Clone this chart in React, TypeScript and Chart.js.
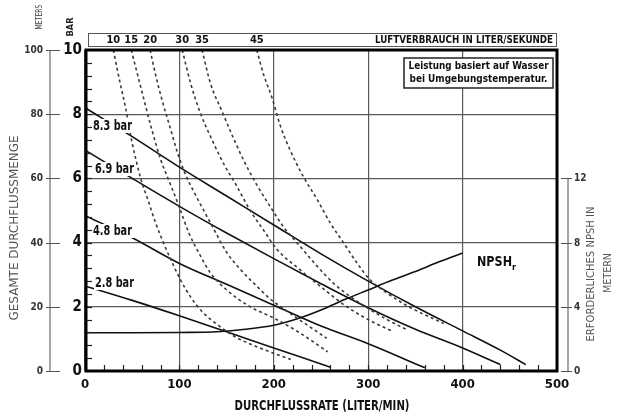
import React, { useEffect, useRef } from "react";
import { Chart, registerables } from "chart.js";

Chart.register(...registerables);

const FONT = "'Liberation Sans Narrow', 'DejaVu Sans Condensed', 'Liberation Sans', sans-serif";

// Axis ticks
const flowTicks = [0, 100, 200, 300, 400, 500];
const barTicks = [0, 2, 4, 6, 8, 10];
const meterTicks = [0, 20, 40, 60, 80, 100];
const npshTicks = [0, 4, 8, 12];

// Pressure lines (flow L/min -> head in bar)
const p83X = [0, 50, 100, 150, 200, 250, 300, 350, 400, 440, 467];
const p83Y = [8.2, 7.3, 6.35, 5.45, 4.55, 3.65, 2.8, 2.0, 1.25, 0.65, 0.2];
const p69X = [0, 50, 100, 150, 200, 250, 300, 350, 400, 440];
const p69Y = [6.88, 6.0, 5.13, 4.3, 3.5, 2.72, 1.97, 1.3, 0.72, 0.2];
const p48X = [0, 50, 100, 150, 200, 250, 300, 360];
const p48Y = [4.84, 4.15, 3.35, 2.7, 2.05, 1.4, 0.85, 0.1];
const p28X = [0, 50, 100, 150, 200, 230, 260];
const p28Y = [2.65, 2.2, 1.72, 1.22, 0.72, 0.42, 0.12];

// NPSHr curve (flow -> metres, right axis)
const npshX = [0, 50, 100, 140, 170, 200, 225, 250, 275, 300, 325, 350, 375, 400];
const npshY = [2.38, 2.38, 2.4, 2.45, 2.6, 2.85, 3.25, 3.8, 4.45, 5.05, 5.65, 6.2, 6.8, 7.35];

// Air consumption curves (flow -> head in bar)
const air10X = [30, 37, 43, 50, 59, 67, 75, 83, 92, 101, 112, 124, 140, 160, 180, 200, 218];
const air10Y = [10, 9, 8.2, 7.1, 6.0, 5.3, 4.6, 4.0, 3.4, 2.85, 2.3, 1.85, 1.45, 1.05, 0.78, 0.55, 0.36];
const air15X = [49, 59, 71, 80, 90, 100, 110, 122, 133, 150, 175, 200, 228, 257];
const air15Y = [10, 8.85, 7.5, 6.6, 5.85, 5.1, 4.3, 3.6, 3.05, 2.53, 2.0, 1.65, 1.18, 0.6];
const air20X = [69, 75, 82, 90, 98, 106, 115, 124, 135, 150, 165, 180, 196, 217, 238, 256];
const air20Y = [10, 9.2, 8.4, 7.6, 6.8, 6.15, 5.6, 5.1, 4.5, 3.7, 3.15, 2.7, 2.25, 1.8, 1.38, 1.02];
const air30X = [103, 112, 122, 133, 147, 160, 175, 190, 203, 228, 253, 275, 300, 325];
const air30Y = [10, 8.95, 8.05, 7.3, 6.45, 5.8, 5.0, 4.35, 3.8, 3.15, 2.55, 2.05, 1.6, 1.25];
const air35X = [124, 133, 145, 157, 170, 182, 196, 210, 228, 246, 263, 281, 300, 320, 340];
const air35Y = [10, 8.95, 8.1, 7.27, 6.45, 5.8, 5.13, 4.5, 3.88, 3.26, 2.74, 2.32, 1.95, 1.6, 1.3];
const air45X = [182, 189, 198, 207, 217, 231, 246, 260, 274, 288, 302, 320, 340, 360, 380];
const air45Y = [10, 9.25, 8.52, 7.63, 6.9, 6.07, 5.34, 4.6, 3.99, 3.37, 2.84, 2.43, 2.05, 1.75, 1.48];

const airLabels = ["10", "15", "20", "30", "35", "45"];
const airCurvesX = [air10X, air15X, air20X, air30X, air35X, air45X];
const airCurvesY = [air10Y, air15Y, air20Y, air30Y, air35Y, air45Y];

const pressureLabels = ["8.3 bar", "6.9 bar", "4.8 bar", "2.8 bar"];
const pressureX = [p83X, p69X, p48X, p28X];
const pressureY = [p83Y, p69Y, p48Y, p28Y];

const pts = (xs: number[], ys: number[]) => xs.map((x, i) => ({ x, y: ys[i] }));

function txt(
  ctx: CanvasRenderingContext2D,
  s: string,
  x: number,
  y: number,
  font: string,
  color: string,
  align: CanvasTextAlign = "center",
  w?: number,
  rot = 0
) {
  ctx.save();
  ctx.font = font;
  ctx.fillStyle = color;
  ctx.textBaseline = "middle";
  ctx.textAlign = align;
  const m = ctx.measureText(s).width;
  const sx = w ? w / m : 1;
  ctx.translate(x, y);
  if (rot) ctx.rotate(rot);
  ctx.scale(sx, 1);
  ctx.fillText(s, 0, 0);
  ctx.restore();
}

const decor = {
  id: "decor",
  afterDatasetsDraw(chart: any) {
    const ctx: CanvasRenderingContext2D = chart.ctx;
    const a = chart.chartArea;
    const sx = chart.scales.x;
    const sy = chart.scales.y;
    const sm = chart.scales.yM;
    const sn = chart.scales.yN;

    // minor ticks bottom
    ctx.save();
    ctx.strokeStyle = "#222";
    ctx.lineWidth = 1.2;
    for (let v = 20; v < 500; v += 20) {
      const px = Math.round(sx.getPixelForValue(v)) + 0.5;
      ctx.beginPath();
      ctx.moveTo(px, a.bottom);
      ctx.lineTo(px, a.bottom - 6);
      ctx.stroke();
    }
    for (let k = 1; k < 25; k++) {
      const py = Math.round(sy.getPixelForValue(k * 0.4)) + 0.5;
      ctx.beginPath();
      ctx.moveTo(a.left, py);
      ctx.lineTo(a.left + 7, py);
      ctx.stroke();
    }
    ctx.restore();

    // pressure labels
    pressureLabels.forEach((lab, i) => {
      const lx = [93, 95, 93, 95][i];
      const ly = [126, 169, 231, 283][i];
      ctx.save();
      ctx.fillStyle = "#fff";
      ctx.fillRect(lx - 1, ly - 7, 42, 14);
      ctx.restore();
      txt(ctx, lab, lx, ly, `bold 14px ${FONT}`, "#111", "left", 39);
    });

    // NPSHr label
    txt(ctx, "NPSH", 477, 262, `bold 14px ${FONT}`, "#111", "left", 35);
    txt(ctx, "r", 512, 268, `bold 9px ${FONT}`, "#111", "left");

    // note box
    ctx.save();
    ctx.fillStyle = "#fff";
    ctx.fillRect(404, 58, 149, 30);
    ctx.strokeStyle = "#222";
    ctx.lineWidth = 1.5;
    ctx.strokeRect(404, 58, 149, 30);
    ctx.restore();
    txt(ctx, "Leistung basiert auf Wasser", 478.5, 66.5, `bold 11px ${FONT}`, "#111", "center", 140);
    txt(ctx, "bei Umgebungstemperatur.", 478.5, 79.5, `bold 11px ${FONT}`, "#111", "center", 138);

    // thick frame
    ctx.save();
    ctx.strokeStyle = "#000";
    ctx.lineWidth = 3;
    ctx.strokeRect(a.left + 1, a.top, a.right - a.left - 1, a.bottom - a.top);
    ctx.restore();

    // top air consumption box
    ctx.save();
    ctx.strokeStyle = "#555";
    ctx.lineWidth = 1;
    ctx.strokeRect(88.5, 33.5, 468, 13);
    ctx.restore();
    airLabels.forEach((lab, i) => {
      const px = sx.getPixelForValue(airCurvesX[i][0]);
      txt(ctx, lab, px, 40.5, `bold 11px ${FONT}`, "#111", "center");
    });
    txt(ctx, "LUFTVERBRAUCH IN LITER/SEKUNDE", 553, 40.5, `bold 11px ${FONT}`, "#111", "right", 178);

    // meters axis
    ctx.save();
    ctx.strokeStyle = "#888";
    ctx.lineWidth = 1.5;
    ctx.beginPath();
    ctx.moveTo(50, sm.getPixelForValue(100));
    ctx.lineTo(50, sm.getPixelForValue(0));
    ctx.stroke();
    ctx.strokeStyle = "#555";
    ctx.lineWidth = 1;
    meterTicks.forEach((v) => {
      const py = Math.round(sm.getPixelForValue(v)) + 0.5;
      ctx.beginPath();
      ctx.moveTo(46, py);
      ctx.lineTo(60, py);
      ctx.stroke();
      txt(ctx, String(v), 43, py, `bold 10px ${FONT}`, "#333", "right");
    });
    ctx.restore();
    txt(ctx, "METERS", 40, 17, `8px ${FONT}`, "#444", "center", 25, -Math.PI / 2);
    txt(ctx, "BAR", 71, 27, `bold 9px ${FONT}`, "#222", "center", 19, -Math.PI / 2);
    txt(ctx, "GESAMTE DURCHFLUSSMENGE", 15, 228, `12px ${FONT}`, "#555", "center", 185, -Math.PI / 2);

    // NPSH axis
    ctx.save();
    ctx.strokeStyle = "#888";
    ctx.lineWidth = 1.5;
    ctx.beginPath();
    ctx.moveTo(568, sn.getPixelForValue(12));
    ctx.lineTo(568, sn.getPixelForValue(0));
    ctx.stroke();
    ctx.strokeStyle = "#555";
    ctx.lineWidth = 1;
    npshTicks.forEach((v) => {
      const py = Math.round(sn.getPixelForValue(v)) + 0.5;
      ctx.beginPath();
      ctx.moveTo(561, py);
      ctx.lineTo(572, py);
      ctx.stroke();
      txt(ctx, String(v), 574, py, `bold 10px ${FONT}`, "#333", "left");
    });
    ctx.restore();
    txt(ctx, "ERFORDERLICHES NPSH IN", 591, 274, `11px ${FONT}`, "#555", "center", 135, -Math.PI / 2);
    txt(ctx, "METERN", 608, 273, `11px ${FONT}`, "#555", "center", 40, -Math.PI / 2);

    // bottom title
    txt(ctx, "DURCHFLUSSRATE (LITER/MIN)", 322, 406, `bold 14px ${FONT}`, "#111", "center", 175);
  },
};

export default function App() {
  const ref = useRef<HTMLCanvasElement>(null);
  useEffect(() => {
    document.body.style.margin = "0";
    const solid = (xs: number[], ys: number[], axis = "y") => ({
      data: pts(xs, ys),
      yAxisID: axis,
      borderColor: "#111",
      borderWidth: 1.6,
      pointRadius: 0,
      cubicInterpolationMode: "monotone" as const,
      fill: false,
    });
    const dashed = (xs: number[], ys: number[]) => ({
      data: pts(xs, ys),
      yAxisID: "y",
      borderColor: "#3a3a3a",
      borderWidth: 1.6,
      borderDash: [3, 3],
      pointRadius: 0,
      cubicInterpolationMode: "monotone" as const,
      fill: false,
    });
    const datasets: any[] = [
      ...airCurvesX.map((xs, i) => dashed(xs, airCurvesY[i])),
      ...pressureX.map((xs, i) => solid(xs, pressureY[i])),
      solid(npshX, npshY, "yN"),
    ];
    const chart = new Chart(ref.current as HTMLCanvasElement, {
      type: "line",
      data: { datasets },
      options: {
        responsive: false,
        animation: false,
        devicePixelRatio: 1,
        parsing: true,
        layout: { padding: { top: 50, right: 71, left: 0, bottom: 0 } },
        plugins: { legend: { display: false }, tooltip: { enabled: false } },
        scales: {
          x: {
            type: "linear",
            min: 0,
            max: 500,
            afterBuildTicks: (s: any) => {
              s.ticks = flowTicks.map((v) => ({ value: v }));
            },
            ticks: { font: { family: FONT, size: 13, weight: "bold" }, color: "#111", padding: 6, maxRotation: 0 },
            grid: { color: "#5a5a5a", lineWidth: 1.2, drawTicks: false },
            border: { display: false },
            afterFit: (s: any) => {
              s.height = 46;
            },
          },
          y: {
            type: "linear",
            position: "left",
            min: 0,
            max: 10,
            afterBuildTicks: (s: any) => {
              s.ticks = barTicks.map((v) => ({ value: v }));
            },
            ticks: { font: { family: FONT, size: 15, weight: "bold" }, color: "#111", padding: 3 },
            grid: { color: "#5a5a5a", lineWidth: 1.2, drawTicks: false },
            border: { display: false },
            afterFit: (s: any) => {
              s.width = 85;
            },
          },
          yM: { type: "linear", position: "left", min: 0, max: 100, display: false },
          yN: { type: "linear", position: "right", min: 0, max: 20, display: false },
        },
      } as any,
      plugins: [decor],
    });
    return () => chart.destroy();
  }, []);
  return (
    <div style={{ width: 628, height: 417, background: "#fff" }}>
      <canvas ref={ref} width={628} height={417} style={{ display: "block" }} />
    </div>
  );
}
